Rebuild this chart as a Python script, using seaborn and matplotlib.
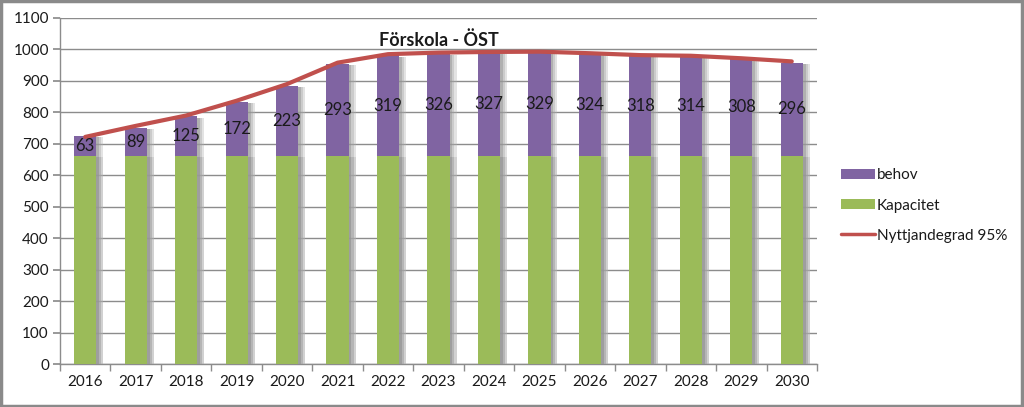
import numpy as np
import pandas as pd
import matplotlib
matplotlib.use("Agg")
import matplotlib.pyplot as plt
import matplotlib.patheffects as pe
from matplotlib.patches import Patch
from matplotlib.lines import Line2D
from matplotlib.ticker import MultipleLocator, FixedLocator
import seaborn as sns

years = ["2016", "2017", "2018", "2019", "2020", "2021", "2022", "2023",
         "2024", "2025", "2026", "2027", "2028", "2029", "2030"]
behov = [63, 89, 125, 172, 223, 293, 319, 326, 327, 329, 324, 318, 314, 308, 296]
kapacitet = [662] * 15
nyttjandegrad = [722, 757, 790, 837, 890, 958, 985, 990, 992, 993, 988, 982, 980, 972, 962]
title = "Förskola - ÖST"

sns.set_theme(style="white")
plt.rcParams["font.family"] = ["Lato", "DejaVu Sans"]

purple = "#8064A2"
green = "#9BBB59"
red = "#C0504D"
gridc = "#8C8C8C"

df = pd.DataFrame({"year": years, "behov": behov, "kapacitet": kapacitet,
                   "total": np.array(behov) + np.array(kapacitet),
                   "nytt": nyttjandegrad})

fig = plt.figure(figsize=(10.24, 4.07), dpi=100)
ax = fig.add_axes([60/1024, 43/407, (817-60)/1024, (364-18)/407])

shadow = [pe.SimplePatchShadow(offset=(5, -1), shadow_rgbFace="#b0b0b0", alpha=0.35),
          pe.SimplePatchShadow(offset=(3.5, -1), shadow_rgbFace="#a0a0a0", alpha=0.35),
          pe.SimplePatchShadow(offset=(2, -1), shadow_rgbFace="#909090", alpha=0.45),
          pe.Normal()]

sns.barplot(data=df, x="year", y="total", color=purple, saturation=1, width=0.44,
            ax=ax, zorder=3, linewidth=0)
sns.barplot(data=df, x="year", y="kapacitet", color=green, saturation=1, width=0.44,
            ax=ax, zorder=3, linewidth=0)
for p in ax.patches:
    p.set_path_effects(shadow)

sns.lineplot(data=df, x="year", y="nytt", color=red, linewidth=3, ax=ax, zorder=5,
             sort=False)

for i, (b, k) in enumerate(zip(behov, kapacitet)):
    ax.text(i, k + b / 2, str(b), ha="center", va="center", fontsize=12,
            color="#1a1a1a", zorder=6)

ax.set_ylim(0, 1100)
ax.set_xlim(-0.5, len(years) - 0.5)
ax.yaxis.set_major_locator(MultipleLocator(100))
ax.grid(axis="y", color=gridc, linewidth=1, zorder=0)
ax.set_axisbelow(True)
ax.set_xlabel("")
ax.set_ylabel("")
for s in ["top", "right"]:
    ax.spines[s].set_visible(False)
for s in ["left", "bottom"]:
    ax.spines[s].set_color(gridc)
    ax.spines[s].set_linewidth(1)
ax.tick_params(axis="y", which="major", length=5, color=gridc, labelsize=11, pad=3,
               left=True, labelcolor="#1a1a1a")
ax.tick_params(axis="x", which="major", length=0, labelsize=11, pad=8, labelcolor="#1a1a1a")
ax.xaxis.set_minor_locator(FixedLocator(np.arange(-0.5, len(years), 1.0)))
ax.tick_params(axis="x", which="minor", length=5, color=gridc, bottom=True)

ax.text(0.5, 0.936, title, transform=ax.transAxes, ha="center", va="center",
        fontsize=13, fontweight="bold", color="#1a1a1a")

handles = [Patch(facecolor=purple, edgecolor="none"),
           Patch(facecolor=green, edgecolor="none"),
           Line2D([0], [0], color=red, linewidth=2.5)]
fig.legend(handles, ["behov", "Kapacitet", "Nyttjandegrad 95%"],
           loc="center left", bbox_to_anchor=(0.808, 0.495), frameon=False,
           fontsize=11, labelspacing=1.05, handlelength=2.2, handleheight=0.6,
           handletextpad=0.15, labelcolor="#1a1a1a")

fig.patches.append(plt.Rectangle((0.001, 0.002), 0.997, 0.995, transform=fig.transFigure,
                                 fill=False, edgecolor="#8a8a8a", linewidth=2.5))

fig.savefig("out.png", dpi=100)
